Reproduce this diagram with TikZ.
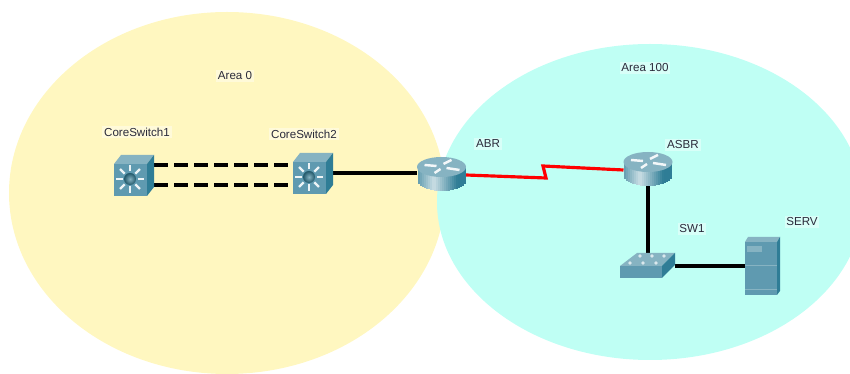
\documentclass[tikz,border=0pt]{standalone}
\usepackage{fontspec}
\setmainfont{Liberation Sans}
\usetikzlibrary{positioning,calc}
\definecolor{areayellow}{HTML}{FFF7C0}
\definecolor{areacyan}{HTML}{BFFFF4}
\definecolor{devfront}{HTML}{5F9AB0}
\definecolor{devtop}{HTML}{86B3C2}
\definecolor{devside}{HTML}{2F7D96}
\definecolor{textdark}{HTML}{2A2A3A}
\tikzset{
  devbox/.style={inner sep=0pt, outer sep=0pt},
  devlabel/.style={font=\fontsize{6.6}{8}\selectfont, text=textdark, fill=white, fill opacity=0.4, text opacity=1, inner sep=1pt},
  link/.style={draw, black, line width=1.8pt},
  pics/layerthree/.style={code={
    \fill[devfront] (-20,-11) rectangle (13,21);
    \fill[devtop] (-20,-11) -- (-13,-20) -- (20,-20) -- (13,-11) -- cycle;
    \fill[devside] (13,-11) -- (20,-20) -- (20,12) -- (13,21) -- cycle;
    \foreach \a in {0,45,...,315}
      \draw[white!85!devtop, line width=1.4pt, shift={(-4,4)}] (\a:7.5) -- (\a:14);
    \shade[inner color=devtop, outer color=devside!70!black] (-4,4) circle (6);
  }},
  pics/router/.style={code={
    \foreach \s in {-24,-22,...,22}{
      \pgfmathsetmacro{\m}{max(0,75-3.2*abs(\s+9))}
      \pgfmathsetmacro{\b}{6+10*sqrt(1-(\s+1)*(\s+1)/600.25)}
      \fill[white!\m!devside] (\s,-8) rectangle (\s+2.3,\b);
    }
    \fill[devtop] (0,-8) ellipse [x radius=24.5, y radius=10];
    \draw[white!90!devtop, line width=1.4pt] (-17,-10) -- (-5,-9) (2,-11) -- (10,-15) (5,-7) -- (18,-5) (-7,-2) -- (-1,-6);
  }},
  pics/workgroup/.style={code={
    \fill[devfront] (-28,0) rectangle (14,12);
    \fill[devtop] (-28,0) -- (-11,-13) -- (27,-13) -- (14,0) -- cycle;
    \fill[devside] (14,0) -- (27,-13) -- (27,-1) -- (14,12) -- cycle;
    \foreach \p in {(-18,-3),(-5,-3),(8,-3),(-8,-10),(4,-10),(16,-10)}
      \fill[white!70!devtop] \p circle (1.8);
  }},
  pics/serverbox/.style={code={
    \fill[devfront] (-17,-24) rectangle (15,29);
    \fill[devtop] (-17,-24) -- (-14,-29) -- (18,-29) -- (15,-24) -- cycle;
    \fill[devside] (15,-24) -- (18,-29) -- (18,25) -- (15,29) -- cycle;
    \fill[devtop] (-15,-20) rectangle (0,-14);
    \draw[devtop, line width=0.5pt] (-17,-1) -- (15,-1) (-17,23) -- (15,23);
  }},
}
\begin{document}
\begin{tikzpicture}[x=0.02cm, y=-0.02cm]
        \useasboundingbox (0,0) rectangle (850,374);
        \clip (0,0) rectangle (850,374);
        %areas
        \fill[areayellow] (227,193) ellipse [x radius=218, y radius=181];
        \fill[areacyan] (650,202) ellipse [x radius=213, y radius=158];
        %nodes
        \node[devbox, minimum width=0.8cm, minimum height=0.82cm] (core1) at (134,175) {};
        \node[devbox, minimum width=0.8cm, minimum height=0.82cm] (core2) at (313,173) {};
        \node[devbox, minimum width=0.98cm, minimum height=0.66cm] (abr) at (441.5,175) {};
        \node[devbox, minimum width=0.98cm, minimum height=0.66cm] (asbr) at (648,170) {};
        \node[devbox, minimum width=1.1cm, minimum height=0.5cm] (sw1) at (648,266) {};
        \node[devbox, minimum width=0.7cm, minimum height=1.16cm] (serv) at (762,266) {};
        \coordinate (zigA) at (546,178);
        \coordinate (zigB) at (543,166);
        %edges
        \path [link, dash pattern=on 8pt off 3.4pt] ([yshift=0.2cm]core1.east) -- ([yshift=0.2cm]core1.east -| core2.west);
        \path [link, dash pattern=on 8pt off 3.4pt] ([yshift=-0.2cm]core1.east) -- ([yshift=-0.2cm]core1.east -| core2.west);
        \path [link] (core2.east) -- (core2.east -| abr.west);
        \path [link, red] (abr.east) -- (zigA) -- (zigB) -- (asbr.west);
        \path [link] (asbr.south) -- (sw1.north);
        \path [link] (sw1.east) -- (serv.west);
        %icons
        \pic at (core1) {layerthree};
        \pic at (core2) {layerthree};
        \pic at (abr) {router};
        \pic at (asbr) {router};
        \pic at (sw1) {workgroup};
        \pic at (serv) {serverbox};
        %labels
        \node[devlabel] (area0) at (235,76) {Area 0};
        \node[devlabel] (area100) at (645,68) {Area 100};
        \node[devlabel] (core1label) at (137,132) {CoreSwitch1};
        \node[devlabel] (core2label) at (304,134) {CoreSwitch2};
        \node[devlabel] (abrlabel) at (488,144) {ABR};
        \node[devlabel] (asbrlabel) at (683,145) {ASBR};
        \node[devlabel] (sw1label) at (692,229) {SW1};
        \node[devlabel] (servlabel) at (802,222) {SERV};
      \end{tikzpicture}
\end{document}
